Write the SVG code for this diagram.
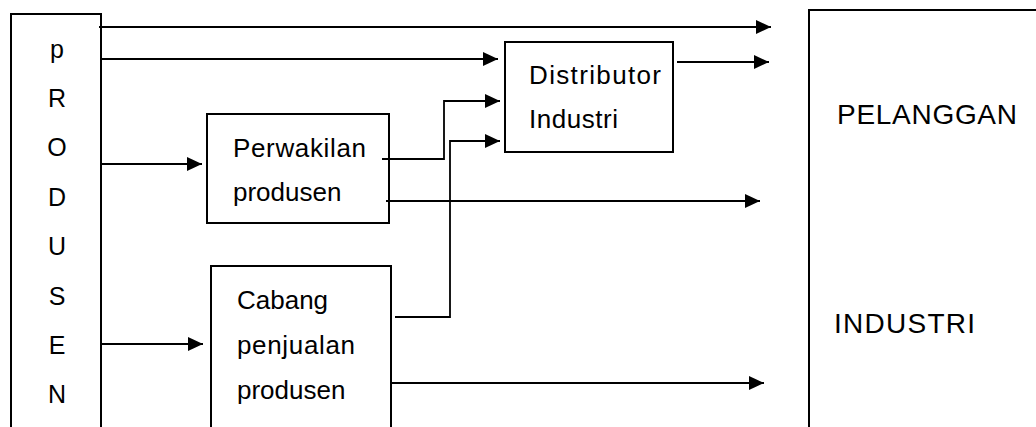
<svg xmlns="http://www.w3.org/2000/svg" width="1036" height="427" viewBox="0 0 1036 427">
  <style>
    .box { fill: #ffffff; stroke: #000000; stroke-width: 2; }
    .line { fill: none; stroke: #000000; stroke-width: 1.8; }
    .t { font-family: "Liberation Sans", Arial, sans-serif; font-size: 26px; fill: #000000; }
    .big { font-family: "Liberation Sans", Arial, sans-serif; font-size: 28px; fill: #000000; }
    .v { font-family: "Liberation Sans", Arial, sans-serif; font-size: 25px; fill: #000000; text-anchor: middle; }
  </style>
  <defs>
    <marker id="arrow" markerUnits="userSpaceOnUse" markerWidth="15" markerHeight="14" refX="15" refY="7" orient="auto">
      <path d="M0,0 L15,7 L0,14 Z" fill="#000000"/>
    </marker>
  </defs>
  <rect width="1036" height="427" fill="#ffffff"/>

  <g id="produsen">
    <rect class="box" x="11" y="14" width="90" height="500"/>
    <text class="v" x="57" y="58">p</text>
    <text class="v" x="57" y="107">R</text>
    <text class="v" x="57" y="156">O</text>
    <text class="v" x="57" y="206">D</text>
    <text class="v" x="57" y="255">U</text>
    <text class="v" x="57" y="305">S</text>
    <text class="v" x="57" y="354">E</text>
    <text class="v" x="57" y="403">N</text>
  </g>

  <g id="perwakilan">
    <rect class="box" x="207" y="114" width="182" height="109"/>
    <text class="t" x="233" y="157" textLength="133" lengthAdjust="spacing">Perwakilan</text>
    <text class="t" x="233" y="201">produsen</text>
  </g>

  <g id="cabang">
    <rect class="box" x="211" y="266" width="180" height="300"/>
    <text class="t" x="237" y="309">Cabang</text>
    <text class="t" x="237" y="354" textLength="118" lengthAdjust="spacing">penjualan</text>
    <text class="t" x="237" y="399">produsen</text>
  </g>

  <g id="distributor">
    <rect class="box" x="505" y="42" width="168" height="110"/>
    <text class="t" x="529" y="84" textLength="132" lengthAdjust="spacing">Distributor</text>
    <text class="t" x="529" y="128" textLength="89" lengthAdjust="spacing">Industri</text>
  </g>

  <g id="pelanggan">
    <rect class="box" x="809" y="10" width="300" height="500"/>
    <text class="big" x="837" y="124" textLength="180" lengthAdjust="spacing">PELANGGAN</text>
    <text class="big" x="834" y="333" textLength="141" lengthAdjust="spacing">INDUSTRI</text>
  </g>

  <g id="connectors">
    <path class="line" d="M99,27 H771" marker-end="url(#arrow)"/>
    <path class="line" d="M101,59 H498" marker-end="url(#arrow)"/>
    <path class="line" d="M677,62 H769" marker-end="url(#arrow)"/>
    <path class="line" d="M101,164 H202" marker-end="url(#arrow)"/>
    <path class="line" d="M382,159 H444 V101 H500" marker-end="url(#arrow)"/>
    <path class="line" d="M386,201 H760" marker-end="url(#arrow)"/>
    <path class="line" d="M101,344 H203" marker-end="url(#arrow)"/>
    <path class="line" d="M395,317 H450 V141 H500" marker-end="url(#arrow)"/>
    <path class="line" d="M391,383 H764" marker-end="url(#arrow)"/>
  </g>
</svg>
